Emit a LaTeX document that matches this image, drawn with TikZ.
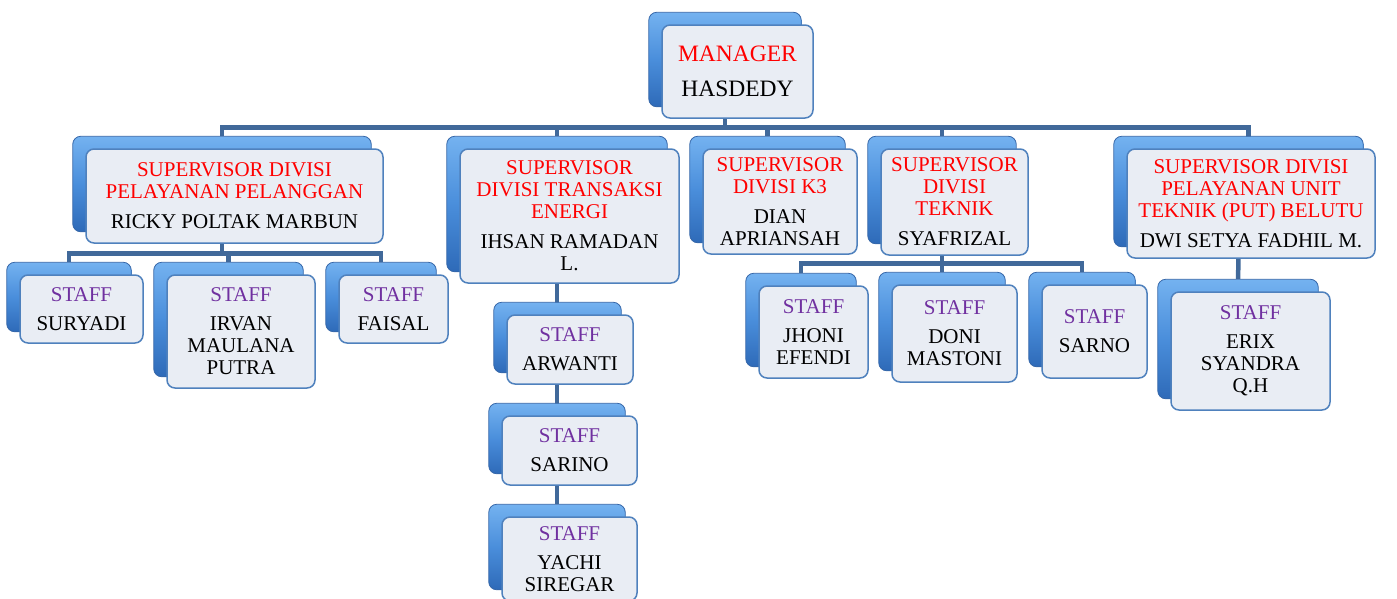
\documentclass[tikz,border=0pt]{standalone}
\usepackage{fontspec}
\setmainfont{Liberation Serif}
\usepackage{tikz}
\usetikzlibrary{fit,calc}
\definecolor{OrgRed}{HTML}{FF0000}
\definecolor{OrgPurple}{HTML}{7030A0}
\definecolor{LinkBlue}{HTML}{41699A}
\definecolor{BackTop}{HTML}{74B2F0}
\definecolor{BackMid}{HTML}{4A8EDB}
\definecolor{BackBot}{HTML}{2E6AB8}
\definecolor{BackEdge}{HTML}{3566A8}
\definecolor{FrontEdge}{HTML}{4F81BD}
\definecolor{FrontFill}{HTML}{E9EDF4}
\pgfdeclarelayer{links}
\pgfdeclarelayer{backs}
\pgfsetlayers{links,backs,main}

\begin{document}
\begin{tikzpicture}[x=1pt, y=-1pt, every node/.style={font=\fontsize{21}{22}\selectfont},
  card/.style={draw=FrontEdge, line width=1.5pt, fill=FrontFill, rounded corners=8pt, align=center, inner sep=0pt},
  backcard/.style={draw=BackEdge, line width=0.8pt, top color=BackTop, bottom color=BackBot, middle color=BackMid, rounded corners=8pt, inner sep=0pt},
  link/.style={draw=LinkBlue, line width=4.5pt}]
\useasboundingbox (0,0) rectangle (1397,598);
\node[card, minimum width=151pt, minimum height=93pt, font=\fontsize{23.5}{25}\selectfont] (mgr) at (737.5,71.5) {\textcolor{OrgRed}{MANAGER}\\[10pt]HASDEDY};
\node[card, minimum width=297pt, minimum height=94pt] (sup1) at (234.5,196) {\textcolor{OrgRed}{SUPERVISOR DIVISI}\\\textcolor{OrgRed}{PELAYANAN PELANGGAN}\\[8pt]RICKY POLTAK MARBUN};
\node[card, minimum width=219pt, minimum height=134pt] (sup2) at (569.5,216) {\textcolor{OrgRed}{SUPERVISOR}\\\textcolor{OrgRed}{DIVISI TRANSAKSI}\\\textcolor{OrgRed}{ENERGI}\\[8pt]IHSAN RAMADAN\\L.};
\node[card, minimum width=154pt, minimum height=105pt] (k3) at (780,201.5) {\textcolor{OrgRed}{SUPERVISOR}\\\textcolor{OrgRed}{DIVISI K3}\\[8pt]DIAN\\APRIANSAH};
\node[card, minimum width=147pt, minimum height=106pt] (tek) at (954.5,202) {\textcolor{OrgRed}{SUPERVISOR}\\\textcolor{OrgRed}{DIVISI}\\\textcolor{OrgRed}{TEKNIK}\\[8pt]SYAFRIZAL};
\node[card, minimum width=248pt, minimum height=109pt] (put) at (1251,203.5) {\textcolor{OrgRed}{SUPERVISOR DIVISI}\\\textcolor{OrgRed}{PELAYANAN UNIT}\\\textcolor{OrgRed}{TEKNIK (PUT) BELUTU}\\[8pt]DWI SETYA FADHIL M.};
% staff
\node[card, minimum width=123pt, minimum height=68pt] (sur) at (81.5,309) {\textcolor{OrgPurple}{STAFF}\\[7pt]SURYADI};
\node[card, minimum width=148pt, minimum height=113pt] (irv) at (241,331.5) {\textcolor{OrgPurple}{STAFF}\\[7pt]IRVAN\\MAULANA\\PUTRA};
\node[card, minimum width=109pt, minimum height=68pt] (fai) at (393.5,309) {\textcolor{OrgPurple}{STAFF}\\[7pt]FAISAL};
\node[card, minimum width=126pt, minimum height=69pt] (arw) at (570,349.5) {\textcolor{OrgPurple}{STAFF}\\[7pt]ARWANTI};
\node[card, minimum width=135pt, minimum height=69pt] (sar) at (569.5,450.5) {\textcolor{OrgPurple}{STAFF}\\[7pt]SARINO};
\node[card, minimum width=135pt, minimum height=84pt] (yac) at (569.5,559) {\textcolor{OrgPurple}{STAFF}\\[7pt]YACHI\\SIREGAR};
\node[card, minimum width=109pt, minimum height=92pt] (jho) at (813.5,332) {\textcolor{OrgPurple}{STAFF}\\[7pt]JHONI\\EFENDI};
\node[card, minimum width=125pt, minimum height=97pt] (don) at (954.5,333.5) {\textcolor{OrgPurple}{STAFF}\\[7pt]DONI\\MASTONI};
\node[card, minimum width=105pt, minimum height=93pt] (sno) at (1094.5,331.5) {\textcolor{OrgPurple}{STAFF}\\[7pt]SARNO};
\node[card, minimum width=159pt, minimum height=118pt] (erx) at (1250.5,351) {\textcolor{OrgPurple}{STAFF}\\[7pt]ERIX\\SYANDRA\\Q.H};
\begin{pgfonlayer}{backs}
\foreach \n in {mgr,sup1,sup2,k3,tek,put,sur,irv,fai,arw,sar,yac,jho,don,sno,erx}
  \node[backcard, fit={([shift={(-12.5,-12)}]\n.north west) ([shift={(-12.5,-12)}]\n.south east)}] (\n-b) {};
\end{pgfonlayer}
\begin{pgfonlayer}{links}
\coordinate (busM) at (725,127.5);
\coordinate (bus1) at (222,253.5);
\coordinate (bus4) at (942,263.5);
\draw[link] (mgr-b) -- (busM);
\draw[link] (sup1-b) |- (busM) -| ([xshift=10pt]put-b.center);
\foreach \n in {sup2,k3,tek}
  \draw[link] (busM -| \n-b) -- (\n-b);
\draw[link] (sup1-b) -- (bus1);
\draw[link] (sur-b) |- (bus1) -| (fai-b);
\draw[link] (bus1 -| irv-b) -- (irv-b);
\draw[link] (sup2-b) -- (yac-b);
\draw[link] (tek-b) -- (bus4);
\draw[link] (jho-b) |- (bus4) -| (sno-b);
\draw[link] (bus4 -| don-b) -- (don-b);
\draw[link] (put-b) -- (erx-b);
\end{pgfonlayer}
\end{tikzpicture}
\end{document}
